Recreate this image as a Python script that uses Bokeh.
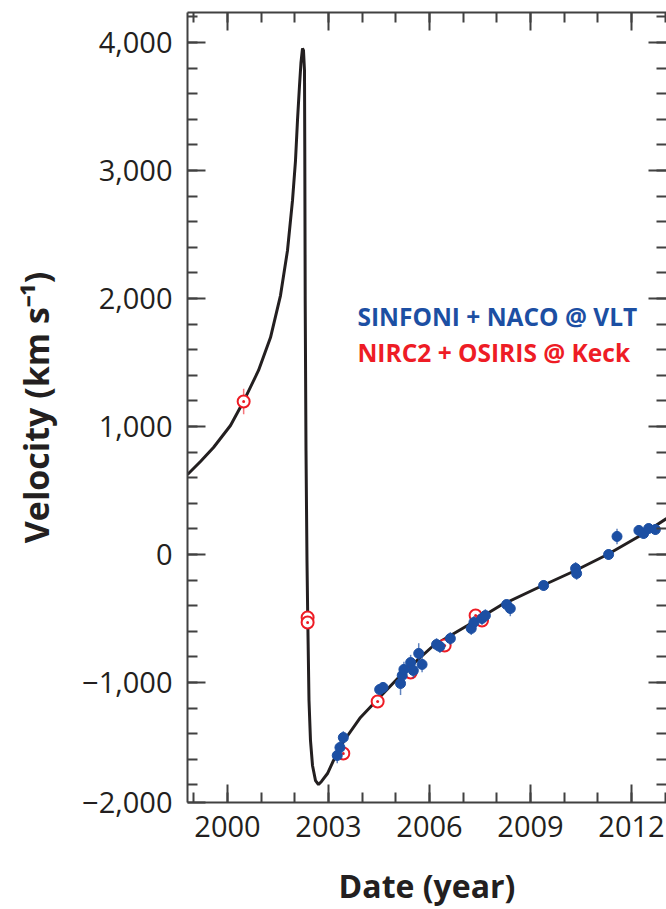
from bokeh.plotting import figure
from bokeh.models import ColumnDataSource, FixedTicker, LinearAxis, Label, Range1d
from bokeh.embed import file_html
from bokeh.resources import INLINE

# Orbit model curve (epoch in years, radial velocity in km/s)
curve_year = [1998.812, 1999.198, 1999.584, 2000.089, 2000.475, 2000.921, 2001.277,
              2001.574, 2001.782, 2001.931, 2002.020, 2002.079, 2002.139, 2002.183,
              2002.228, 2002.257, 2002.287, 2002.296, 2002.308, 2002.332, 2002.361,
              2002.385, 2002.421, 2002.465, 2002.525, 2002.614, 2002.703, 2002.792,
              2002.970, 2003.149, 2003.446, 2003.950, 2004.455, 2005.139, 2006.119,
              2007.129, 2008.109, 2009.297, 2010.337, 2011.287, 2012.267, 2013.040]
curve_vel = [625, 727, 836, 1008, 1195, 1438, 1695,
             2023, 2375, 2766, 3078, 3391, 3664, 3844,
             3953, 3938, 3781, 3156, 1984, 813, -47,
             -516, -1141, -1453, -1648, -1766, -1797, -1773,
             -1711, -1609, -1461, -1273, -1133, -945, -711,
             -555, -398, -250, -125, 0, 148, 281]

# SINFONI + NACO (VLT) measurements
vlt_year = [2003.26, 2003.34, 2003.44, 2004.52, 2004.62, 2005.14, 2005.19, 2005.24,
            2005.44, 2005.52, 2005.68, 2005.78, 2006.21, 2006.31, 2006.62, 2007.24,
            2007.32, 2007.56, 2007.66, 2008.29, 2008.40, 2009.39, 2010.34, 2010.37,
            2011.32, 2011.57, 2012.22, 2012.36, 2012.51, 2012.71]
vlt_vel = [-1570, -1508, -1430, -1055, -1039, -1008, -945, -898,
           -844, -906, -773, -859, -703, -719, -656, -578,
           -531, -500, -477, -391, -422, -242, -109, -148,
           0, 141, 188, 164, 203, 195]
vlt_err = [60, 50, 50, 40, 40, 90, 60, 60,
           60, 60, 80, 60, 50, 50, 50, 50,
           50, 50, 50, 40, 60, 40, 50, 50,
           40, 60, 40, 40, 40, 40]

# NIRC2 + OSIRIS (Keck) measurements
keck_year = [2000.48, 2002.38, 2002.38, 2003.44, 2004.46, 2005.44, 2006.45, 2007.37, 2007.56]
keck_vel = [1195, -492, -531, -1555, -1148, -922, -711, -477, -516]
keck_err = [100, 40, 40, 50, 50, 50, 50, 50, 50]

year_ticks = [2000, 2003, 2006, 2009, 2012]
year_minor = list(range(1999, 2014))
vel_ticks = [-1000, 0, 1000, 2000, 3000, 4000]
vel_tick_labels = ["\u22121,000", "0", "1,000", "2,000", "3,000", "4,000"]
vel_minor = list(range(-1800, 4201, 200))

BLUE = "#1c4fa3"
RED = "#ee1c25"
INK = "#231f20"
FRAME = "#414141"
FONT = "Open Sans"

Y_MIN, Y_MAX = -1937.5, 4234.4

p = figure(width=666, height=909, output_backend="svg", toolbar_location=None,
           x_range=Range1d(1998.812, 2013.04), y_range=Range1d(Y_MIN, Y_MAX),
           min_border_left=187, min_border_right=0, min_border_top=12,
           min_border_bottom=107)
p.outline_line_color = None
p.xgrid.visible = False
p.ygrid.visible = False
p.background_fill_color = "white"
p.border_fill_color = "white"

# ticked frame on all four sides
top_axis = LinearAxis()
right_axis = LinearAxis()
p.add_layout(top_axis, "above")
p.add_layout(right_axis, "right")

# the "−2,000" label is printed at the lower edge of the plot area
edge_tick = Y_MIN + 0.1
left_ticks = [edge_tick] + vel_ticks
left_labels = {t: s for t, s in zip(vel_ticks, vel_tick_labels)}
left_labels[edge_tick] = "\u22122,000"

for ax in p.xaxis:
    ax.ticker = FixedTicker(ticks=year_ticks, minor_ticks=year_minor)
right_axis.ticker = FixedTicker(ticks=vel_ticks, minor_ticks=vel_minor)
p.left[0].ticker = FixedTicker(ticks=left_ticks, minor_ticks=vel_minor)

for ax in [p.below[0], p.left[0], top_axis, right_axis]:
    ax.axis_line_color = FRAME
    ax.axis_line_width = 2
    ax.major_tick_line_color = FRAME
    ax.major_tick_line_width = 2
    ax.minor_tick_line_color = FRAME
    ax.minor_tick_line_width = 2
    ax.major_tick_in = 18
    ax.major_tick_out = 0
    ax.minor_tick_in = 10
    ax.minor_tick_out = 0
    ax.major_label_text_font = FONT
    ax.major_label_text_font_size = "29px"
    ax.major_label_text_color = INK

for ax in [top_axis, right_axis]:
    ax.major_label_text_font_size = "0px"
    ax.major_label_standoff = 0
right_axis.axis_line_color = None

xax = p.below[0]
xax.major_label_standoff = 13
xax.axis_label = "Date (year)"
xax.axis_label_text_font = FONT
xax.axis_label_text_font_style = "bold"
xax.axis_label_text_font_size = "32px"
xax.axis_label_text_color = INK
xax.axis_label_standoff = 24

yax = p.left[0]
yax.major_label_standoff = 15
yax.major_label_overrides = left_labels
yax.axis_label = "Velocity (km s\u207b\u00b9)"
yax.axis_label_text_font = FONT
yax.axis_label_text_font_style = "bold"
yax.axis_label_text_font_size = "34px"
yax.axis_label_text_color = INK
yax.axis_label_standoff = 20

# model curve
p.line(curve_year, curve_vel, line_color=INK, line_width=3)

keck = ColumnDataSource(dict(year=keck_year, vel=keck_vel,
                             lo=[v - e for v, e in zip(keck_vel, keck_err)],
                             hi=[v + e for v, e in zip(keck_vel, keck_err)]))
vlt = ColumnDataSource(dict(year=vlt_year, vel=vlt_vel,
                            lo=[v - e for v, e in zip(vlt_vel, vlt_err)],
                            hi=[v + e for v, e in zip(vlt_vel, vlt_err)]))

p.segment(x0="year", y0="lo", x1="year", y1="hi", source=keck,
          line_color=RED, line_alpha=0.6, line_width=1.5)
p.scatter(x="year", y="vel", source=keck, marker="circle_dot", size=12,
          fill_color="white", line_color=RED, line_width=2)

p.segment(x0="year", y0="lo", x1="year", y1="hi", source=vlt,
          line_color=BLUE, line_alpha=0.7, line_width=1.5)
p.scatter(x="year", y="vel", source=vlt, marker="circle", size=10,
          fill_color=BLUE, line_color=BLUE)

p.add_layout(Label(x=2003.86, y=1859, text="SINFONI + NACO @ VLT", text_align="left",
                   text_baseline="middle", text_font=FONT, text_font_size="24.5px",
                   text_font_style="bold", text_color=BLUE))
p.add_layout(Label(x=2003.86, y=1578, text="NIRC2 + OSIRIS @ Keck", text_align="left",
                   text_baseline="middle", text_font=FONT, text_font_size="24.5px",
                   text_font_style="bold", text_color=RED))

open("out.html", "w").write(file_html(p, INLINE))
